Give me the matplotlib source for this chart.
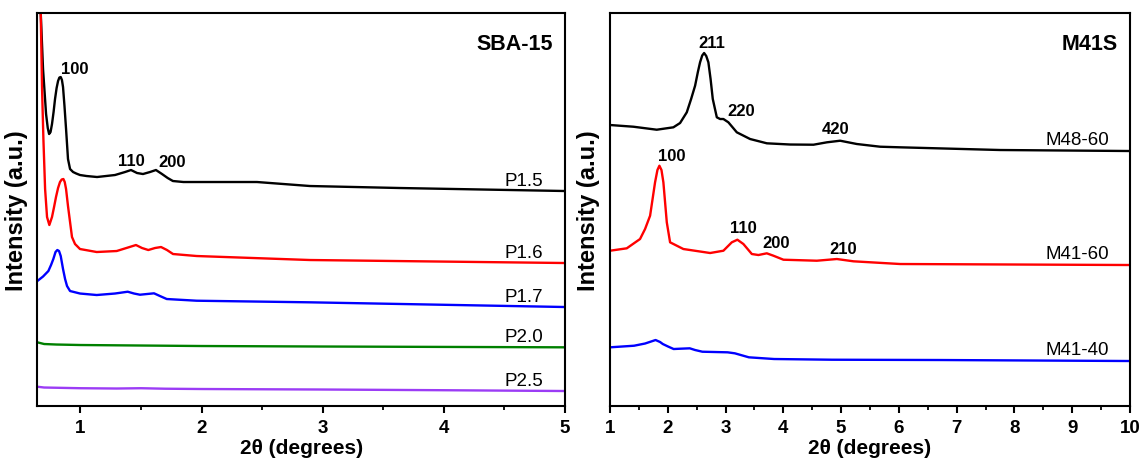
import matplotlib
matplotlib.use("Agg")
import matplotlib.pyplot as plt
from matplotlib.ticker import MultipleLocator

plt.rcParams["font.family"] = ["Liberation Sans", "DejaVu Sans"]

# ---- SBA-15 panel (2theta in degrees, intensity in a.u., curves already offset)
p15_x = [0.655, 0.672, 0.691, 0.716, 0.730, 0.741, 0.753, 0.765, 0.778, 0.790, 0.803, 0.815,
         0.826, 0.837, 0.847, 0.856, 0.868, 0.881, 0.897, 0.914, 0.939, 0.965, 0.996, 1.05,
         1.137, 1.285, 1.368, 1.417, 1.467, 1.516, 1.574, 1.623, 1.673, 1.72, 1.763, 1.85,
         1.986, 2.457, 2.894, 3.637, 5.0]
p15_y = [437, 393, 337, 292, 278, 272, 274, 282, 294, 307, 318, 325,
         328.5, 329, 326, 319, 300, 277, 247, 237, 234, 232.5, 231, 230,
         229, 231, 234, 236, 233, 232, 234, 236, 232, 228, 225, 224,
         224, 224, 220, 218, 215]

p16_x = [0.655, 0.672, 0.683, 0.694, 0.708, 0.724, 0.743, 0.765, 0.782, 0.798, 0.815, 0.831,
         0.845, 0.859, 0.870, 0.881, 0.897, 0.914, 0.930, 0.955, 0.996, 1.134, 1.299, 1.392,
         1.458, 1.508, 1.560, 1.615, 1.665, 1.714, 1.764, 1.959, 2.894, 5.0]
p16_y = [520, 393, 317, 267, 217, 189, 181, 189, 199, 209, 218, 224,
         226.5, 227, 224, 217, 200, 184, 169, 162, 157, 154, 155, 158.5,
         161, 158, 156, 158, 159, 156, 152, 150, 146, 143]

p17_x = [0.644, 0.691, 0.735, 0.757, 0.776, 0.794, 0.809, 0.823, 0.837, 0.856, 0.873, 0.889,
         0.914, 0.996, 1.134, 1.285, 1.390, 1.442, 1.491, 1.549, 1.607, 1.656, 1.712, 1.959,
         2.894, 5.0]
p17_y = [125, 129.5, 135, 141, 147, 154, 156, 155, 150, 137, 127, 120,
         115, 112.5, 111, 112.5, 114.3, 112.5, 111.3, 112, 112.7, 110, 107, 105.3,
         103.7, 99]

p20_x = [0.644, 0.70, 0.80, 1.0, 2.0, 3.0, 5.0]
p20_y = [63.7, 62, 61.5, 61, 60, 59.5, 58.7]

p25_x = [0.644, 0.70, 1.0, 1.3, 1.5, 1.7, 2.0, 3.0, 4.0, 5.0]
p25_y = [19.3, 18.5, 17.8, 17.5, 17.8, 17.3, 17, 16.5, 15.8, 15]

sba_names = ["P1.5", "P1.6", "P1.7", "P2.0", "P2.5"]
sba_colors = ["black", "#ff0000", "#0000ff", "#008000", "#9b3cf5"]

# peak labels (hkl) for P1.5
sba_hkl = ["100", "110", "200"]
sba_hkl_x = [0.951, 1.423, 1.755]
sba_hkl_y = [338, 246, 245]

# ---- M41S panel
m4860_x = [1.0, 1.403, 1.808, 2.096, 2.212, 2.328, 2.403, 2.472, 2.52, 2.558, 2.595, 2.628,
           2.665, 2.702, 2.74, 2.778, 2.848, 2.905, 2.962, 3.048, 3.194, 3.424, 3.714, 4.117,
           4.521, 4.753, 4.983, 5.272, 5.675, 6.022, 7.753, 10.0]
m4860_y = [281, 279.3, 276.3, 278.7, 283, 293.7, 307, 320.3, 334, 343.7, 350.5, 353,
           350, 343.7, 327, 307, 288.7, 287, 287, 283.7, 273.7, 267, 262.7, 261.5,
           261.3, 263.7, 265.3, 262, 259.3, 258.7, 256, 255]

m4160_x = [1.0, 1.289, 1.519, 1.606, 1.693, 1.779, 1.82, 1.854, 1.89, 1.923, 1.982, 2.039,
           2.269, 2.732, 2.962, 3.107, 3.204, 3.308, 3.454, 3.568, 3.713, 3.828, 4.001, 4.579,
           4.926, 5.213, 6.022, 10.0]
m4160_y = [155.3, 157.7, 167, 177, 190.3, 223.7, 236, 240.3, 236, 223.7, 183.7, 163.7,
           157, 153, 155.3, 163.7, 166.3, 162, 152, 151, 152.7, 150.3, 146.3, 145.3,
           147, 144.7, 142, 141]

m4140_x = [1.0, 1.416, 1.606, 1.788, 1.866, 1.913, 2.004, 2.101, 2.212, 2.38, 2.472, 2.598,
           3.035, 3.160, 3.403, 3.840, 4.841, 6.714, 10.0]
m4140_y = [58.7, 60.3, 62.5, 66, 64, 62, 59.5, 57, 57.3, 57.7, 56, 54.3,
           53.7, 52.7, 48.7, 47, 46.3, 46, 45]

m41_names = ["M48-60", "M41-60", "M41-40"]
m41_colors = ["black", "#ff0000", "#0000ff"]

m48_hkl = ["211", "220", "420"]
m48_hkl_x = [2.76, 3.27, 4.90]
m48_hkl_y = [364, 296, 278]

m41_hkl = ["100", "110", "200", "210"]
m41_hkl_x = [2.07, 3.31, 3.88, 5.04]
m41_hkl_y = [251, 179, 164, 158]

fig = plt.figure(figsize=(11.42, 4.64), dpi=100)
ax1 = fig.add_axes([0.0327, 0.1228, 0.4621, 0.847])
ax2 = fig.add_axes([0.5342, 0.1228, 0.4553, 0.847])

sba = [(p15_x, p15_y), (p16_x, p16_y), (p17_x, p17_y), (p20_x, p20_y), (p25_x, p25_y)]
for (x, y), name, c in zip(sba, sba_names, sba_colors):
    ax1.plot(x, y, color=c, lw=1.7)
    ax1.text(4.816, y[-1] + 6, name, ha="right", va="baseline", fontsize=13.5)
for t, x, y in zip(sba_hkl, sba_hkl_x, sba_hkl_y):
    ax1.text(x, y, t, ha="center", va="center", fontsize=12, fontweight="bold")

m41 = [(m4860_x, m4860_y), (m4160_x, m4160_y), (m4140_x, m4140_y)]
for (x, y), name, c in zip(m41, m41_names, m41_colors):
    ax2.plot(x, y, color=c, lw=1.7)
    ax2.text(9.64, y[-1] + 7, name, ha="right", va="baseline", fontsize=13.5)
for t, x, y in zip(m48_hkl + m41_hkl, m48_hkl_x + m41_hkl_x, m48_hkl_y + m41_hkl_y):
    ax2.text(x, y, t, ha="center", va="center", fontsize=12, fontweight="bold")

ax1.set_xlim(0.644, 5)
ax2.set_xlim(1, 10)
ax1.text(0.977, 0.908, "SBA-15", transform=ax1.transAxes, ha="right", va="baseline",
         fontsize=15.5, fontweight="bold")
ax2.text(0.977, 0.908, "M41S", transform=ax2.transAxes, ha="right", va="baseline",
         fontsize=15.5, fontweight="bold")

for ax in (ax1, ax2):
    ax.set_ylim(0, 393)
    ax.set_yticks([])
    ax.xaxis.set_major_locator(MultipleLocator(1))
    ax.xaxis.set_minor_locator(MultipleLocator(0.5))
    ax.tick_params(axis="x", which="major", direction="out", length=5, width=1.5, pad=4,
                   labelsize=13.5)
    ax.tick_params(axis="x", which="minor", direction="out", length=3, width=1.3)
    for lab in ax.get_xticklabels():
        lab.set_fontweight("bold")
    for s in ax.spines.values():
        s.set_linewidth(1.5)
    ax.set_xlabel("2θ (degrees)", fontsize=15, fontweight="bold", labelpad=2)
    ax.set_ylabel("Intensity (a.u.)", fontsize=17, fontweight="bold", labelpad=7)

fig.savefig("out.png", dpi=100)
